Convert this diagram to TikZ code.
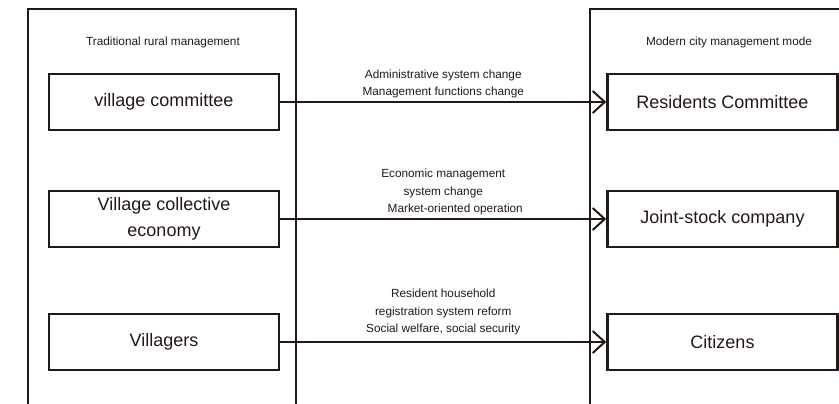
\documentclass[tikz,border=0pt]{standalone}
\usepackage{fontspec}
\setmainfont{Liberation Sans}
\usepackage{tikz}
\usetikzlibrary{positioning,arrows.meta}
\definecolor{ink}{HTML}{231815}

\begin{document}
\begin{tikzpicture}[x=1pt,y=-1pt,
  frame/.style={draw=ink,line width=2pt},
  item/.style={draw=ink,line width=2.6pt,minimum width=230pt,minimum height=56pt,inner sep=0pt,align=center,font=\fontsize{18}{26}\selectfont,text=ink},
  title/.style={font=\fontsize{11.8}{17.5}\selectfont,text=ink},
  note/.style={font=\fontsize{11.8}{17.5}\selectfont,text=ink,align=center,inner sep=1pt},
  flow/.style={draw=ink,line width=2pt,-{Straight Barb[length=12pt,width=22pt,line width=2pt]}}]
  \useasboundingbox (0,0) rectangle (839,404);
  \clip (0,0) rectangle (839,404);

  % outer frames
  \draw[frame] (28,9) rectangle (296,404.5);
  \draw[frame] (590,9) rectangle (860,404.5);
  \node[title] (trad) at (163,42) {Traditional rural management};
  \node[title] (modern) at (729,42) {Modern city management mode};

  % left column
  \node[item] (vc) at (164,102) {village committee};
  \node[item] (ve) at (164,219) {Village collective\\economy};
  \node[item] (vl) at (164,342) {Villagers};

  % right column
  \node[item] (rc) at (722.5,102) {Residents Committee};
  \node[item] (jc) at (722.5,219) {Joint-stock company};
  \node[item] (ci) at (722.5,342) {Citizens};

  \draw[flow] (vc) -- (rc) node[note,midway,above=2pt] {Administrative system change\\Management functions change};
  \draw[flow] (ve) -- (jc) node[note,midway,above=2pt] {Economic management\\system change\\\hspace*{24pt}Market-oriented operation};
  \draw[flow] (vl) -- (ci) node[note,midway,above=5pt] {Resident household\\registration system reform\\Social welfare, social security};
\end{tikzpicture}
\end{document}
